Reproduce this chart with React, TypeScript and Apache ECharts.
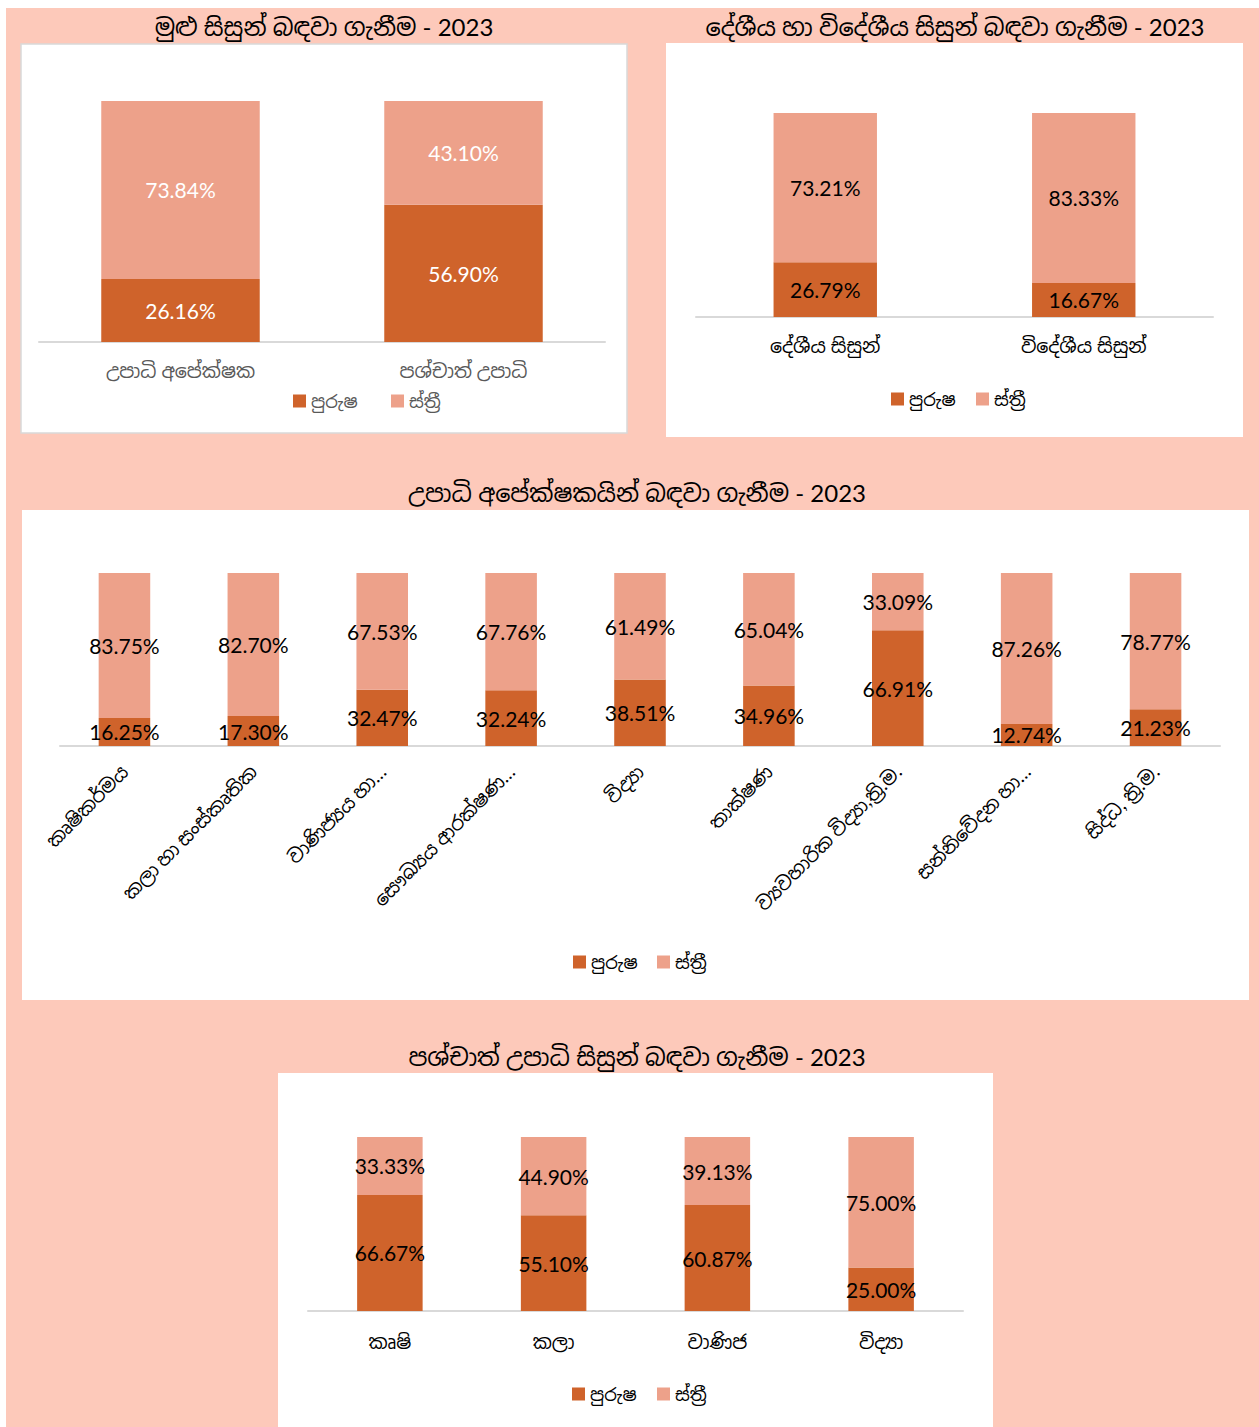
import React, { useEffect, useRef } from "react";
import * as echarts from "echarts";

const LEGEND_NAMES = ["පුරුෂ", "ස්ත්‍රී"];

const titles = [
  "මුළු සිසුන් බඳවා ගැනීම - 2023",
  "දේශීය හා විදේශීය සිසුන් බඳවා ගැනීම - 2023",
  "උපාධි අපේක්ෂකයින් බඳවා ගැනීම - 2023",
  "පශ්චාත් උපාධි සිසුන් බඳවා ගැනීම - 2023",
];

const cats1 = ["උපාධි අපේක්ෂක", "පශ්චාත් උපාධි"];
const male1 = [26.16, 56.9];
const female1 = [73.84, 43.1];

const cats2 = ["දේශීය සිසුන්", "විදේශීය සිසුන්"];
const male2 = [26.79, 16.67];
const female2 = [73.21, 83.33];

const cats3 = [
  "කෘෂිකර්මය",
  "කලා හා සංස්කෘතික",
  "වාණිජ්‍යය හා…",
  "සෞඛ්‍යය ආරක්ෂණ…",
  "විද්‍යා",
  "තාක්ෂණ",
  "ව්‍යවහාරික විද්‍යා,ත්‍රි.ම.",
  "සන්නිවේදන හා…",
  "සිද්ධ, ත්‍රි.ම.",
];
const male3 = [16.25, 17.3, 32.47, 32.24, 38.51, 34.96, 66.91, 12.74, 21.23];
const female3 = [83.75, 82.7, 67.53, 67.76, 61.49, 65.04, 33.09, 87.26, 78.77];

const cats4 = ["කෘෂි", "කලා", "වාණිජ", "විද්‍යා"];
const male4 = [66.67, 55.1, 60.87, 25.0];
const female4 = [33.33, 44.9, 39.13, 75.0];

const DARK = "#CF632B";
const LIGHT = "#EDA18A";
const BG = "#FDC9BA";
const FONT = "Lato, 'Noto Sans Sinhala', 'Noto Sans', sans-serif";

export default function App() {
  const ref = useRef<HTMLDivElement>(null);

  useEffect(() => {
    if (!ref.current) return;
    const chart = echarts.init(ref.current, null, { renderer: "svg" });

    const grids = [
      { left: 39, top: 101, width: 566, height: 241 },
      { left: 696, top: 113, width: 517, height: 204 },
      { left: 60, top: 573, width: 1160, height: 173 },
      { left: 308, top: 1137, width: 655, height: 174 },
    ];
    const cats = [cats1, cats2, cats3, cats4];
    const males = [male1, male2, male3, male4];
    const females = [female1, female2, female3, female4];
    const gaps = ["44%", "60%", "60%", "60%"];
    const labelColors = ["#FFFFFF", "#000000", "#000000", "#000000"];

    const xAxes = cats.map((c, i) => ({
      type: "category",
      gridIndex: i,
      data: c,
      axisTick: { show: false },
      axisLine: { lineStyle: { color: "#D9D9D9", width: 2 } },
      axisLabel:
        i === 2
          ? { rotate: 45, fontSize: 19, color: "#000", margin: 22, fontFamily: FONT, interval: 0 }
          : {
              fontSize: 19,
              color: i === 0 ? "#595959" : "#000",
              margin: i === 3 ? 21 : 19,
              fontFamily: FONT,
              interval: 0,
            },
    }));
    const yAxes = cats.map((_, i) => ({
      type: "value",
      gridIndex: i,
      min: 0,
      max: 100,
      show: false,
      splitLine: { show: false },
    }));

    const series: any[] = [];
    cats.forEach((_, i) => {
      const lbl = {
        show: true,
        position: "inside",
        color: labelColors[i],
        fontSize: 21,
        fontFamily: FONT,
        formatter: (p: any) => p.value.toFixed(2) + "%",
      };
      series.push({
        name: LEGEND_NAMES[0],
        type: "bar",
        stack: "s" + i,
        xAxisIndex: i,
        yAxisIndex: i,
        data: males[i],
        barCategoryGap: gaps[i],
        itemStyle: { color: DARK },
        label: lbl,
      });
      series.push({
        name: LEGEND_NAMES[1],
        type: "bar",
        stack: "s" + i,
        xAxisIndex: i,
        yAxisIndex: i,
        data: females[i],
        barCategoryGap: gaps[i],
        itemStyle: { color: LIGHT },
        label: lbl,
      });
    });

    const legendPos = [
      { x: [293, 391], y: 392, c: "#595959" },
      { x: [891, 976], y: 390, c: "#000" },
      { x: [573, 657], y: 953, c: "#000" },
      { x: [572, 657], y: 1385, c: "#000" },
    ];
    const legends: any[] = [];
    legendPos.forEach((lp) => {
      LEGEND_NAMES.forEach((n, k) => {
        legends.push({
          data: [n],
          left: lp.x[k],
          top: lp.y,
          padding: 0,
          itemWidth: 13,
          itemHeight: 13,
          itemGap: 6,
          icon: "rect",
          selectedMode: false,
          textStyle: { fontSize: 18, color: lp.c, fontFamily: FONT },
        });
      });
    });

    const titlePos = [
      { x: 324, y: 14 },
      { x: 955, y: 14 },
      { x: 637, y: 480 },
      { x: 637, y: 1044 },
    ];

    chart.setOption({
      animation: false,
      textStyle: { fontFamily: FONT },
      graphic: [
        { type: "rect", z: -10, shape: { x: 6, y: 8, width: 1253, height: 1419 }, style: { fill: BG } },
        {
          type: "rect",
          z: -9,
          shape: { x: 21, y: 44, width: 606, height: 389 },
          style: { fill: "#FFFFFF", stroke: "#D9D9D9", lineWidth: 1.5 },
        },
        { type: "rect", z: -9, shape: { x: 666, y: 43, width: 577, height: 394 }, style: { fill: "#FFFFFF" } },
        { type: "rect", z: -9, shape: { x: 22, y: 510, width: 1227, height: 490 }, style: { fill: "#FFFFFF" } },
        { type: "rect", z: -9, shape: { x: 278, y: 1073, width: 715, height: 354 }, style: { fill: "#FFFFFF" } },
      ],
      title: titles.map((t, i) => ({
        text: t,
        left: titlePos[i].x,
        top: titlePos[i].y,
        textAlign: "center",
        padding: 0,
        textStyle: { fontSize: 24, fontWeight: "normal", color: "#000", fontFamily: FONT },
      })),
      legend: legends,
      grid: grids,
      xAxis: xAxes,
      yAxis: yAxes,
      series,
    });

    return () => chart.dispose();
  }, []);

  return (
    <div
      ref={ref}
      style={{ position: "absolute", left: 0, top: 0, width: 1259, height: 1427 }}
    />
  );
}
